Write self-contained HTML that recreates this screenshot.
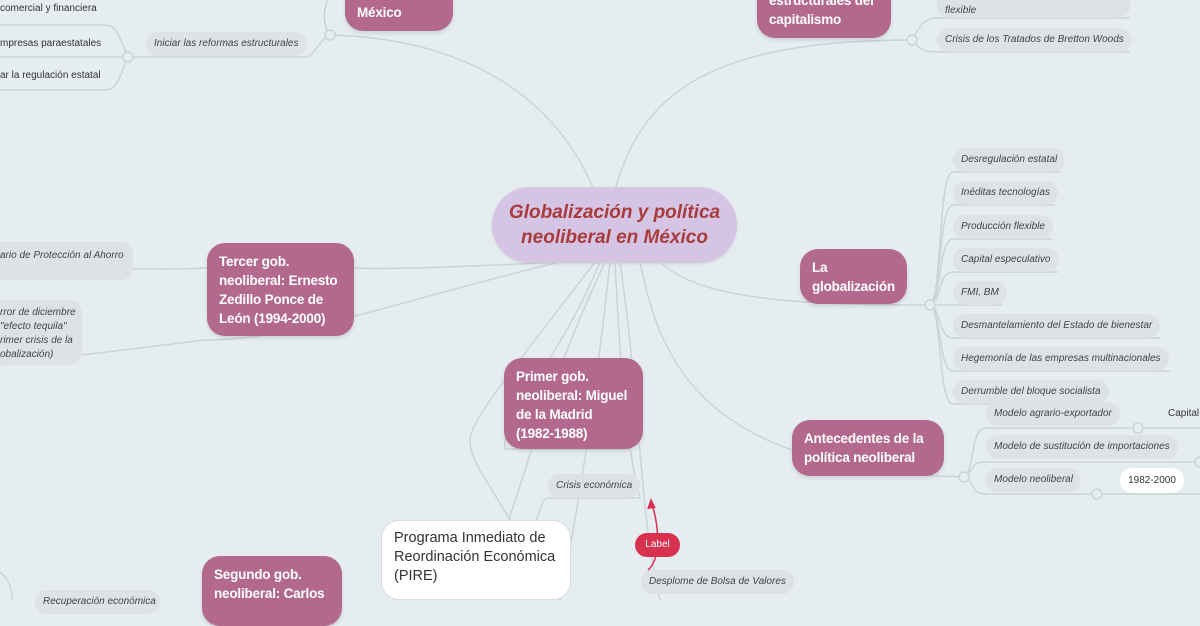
<!DOCTYPE html>
<html><head><meta charset="utf-8"><style>
body{margin:0;width:1200px;height:600px;overflow:hidden;background:#e5edf0;font-family:"Liberation Sans",sans-serif;position:relative}
.n{position:absolute;box-sizing:border-box}
.pk{background:#b3698d;color:#fff;font-weight:bold;font-size:13.5px;letter-spacing:-0.2px;line-height:19px;border-radius:18px;padding:9px 10px 9px 12px;box-shadow:0 2px 4px rgba(0,0,0,.12);white-space:nowrap}
.lf{background:#dde2e5;color:#444;font-style:italic;font-size:10px;border-radius:12px;padding:0 8px;height:24px;line-height:24px;white-space:nowrap}
.tx{color:#333;font-size:10px;white-space:nowrap}
svg{position:absolute;left:0;top:0}
</style></head><body>
<svg width="1200" height="600" fill="none" stroke="#ccd3d6" stroke-width="1.5">
<path d="M612 262 C600 150 520 40 330 35"/>
<path d="M330 35 C320 20 325 5 330 -5"/>
<path d="M330 35 C318 40 315 57 305 57 L146 57 C140 57 135 57 128 57"/>
<path d="M128 57 C120 40 118 25 105 25 L0 25"/>
<path d="M128 57 L0 57"/>
<path d="M128 57 C120 75 118 90 105 90 L0 90"/>
<path d="M615 190 C640 100 700 40 912 40"/>
<path d="M912 40 C920 25 925 18 937 18 L1130 18"/>
<path d="M912 40 C920 50 925 52 937 52 L1130 52"/>
<path d="M600 260 C500 265 400 270 354 268 L205 268 C180 270 150 268 0 270"/>
<path d="M560 262 C400 300 300 340 205 340 L0 365"/>
<path d="M660 262 C700 300 800 305 930 305"/>
<path d="M930 305 C942 300 938 172 953 172 L1060 172"/>
<path d="M930 305 C942 300 938 205 953 205 L1055 205"/>
<path d="M930 305 C942 300 938 239 953 239 L1052 239"/>
<path d="M930 305 C942 300 938 272 953 272 L1058 272"/>
<path d="M930 305 L1002 305"/>
<path d="M930 305 C942 310 938 338 953 338 L1160 338"/>
<path d="M930 305 C942 310 938 371 953 371 L1170 371"/>
<path d="M930 305 C942 310 938 404 953 404 L1108 404"/>
<path d="M640 262 C660 360 700 470 964 477"/>
<path d="M964 477 C975 470 970 430 985 428 L1200 428"/>
<path d="M964 477 C975 470 970 462 985 462 L1200 462"/>
<path d="M964 477 C975 480 970 494 985 494 L1200 494"/>
<path d="M600 262 C560 360 500 420 505 449 L630 449"/>
<path d="M605 262 C540 400 520 500 480 600"/>
<path d="M610 262 C595 400 580 500 560 600"/>
<path d="M615 262 C620 360 625 440 640 498 L548 498 C540 498 540 520 530 530"/>
<path d="M620 262 C640 400 640 520 660 600"/>
<path d="M595 262 C520 360 470 420 470 440 C470 460 480 470 560 600"/>
<path d="M0 572 C10 580 12 590 12 600"/>
</svg>
<svg width="1200" height="600" fill="#e5edf0" stroke="#ccd3d6" stroke-width="1.5">
<circle cx="330" cy="35" r="5"/><circle cx="128" cy="57" r="5"/><circle cx="912" cy="40" r="5"/>
<circle cx="930" cy="305" r="5"/><circle cx="964" cy="477" r="5"/><circle cx="1138" cy="428" r="5"/>
<circle cx="1200" cy="462" r="5"/><circle cx="1097" cy="494" r="5"/>
</svg>
<svg width="1200" height="600" fill="none" stroke="#d8304f" stroke-width="1.5"><path d="M648 570 C660 560 660 530 652 504"/><path d="M648 509 L651 500 L655 508" fill="#d8304f"/></svg>
<div class="n pk" style="left:345px;top:-30px;width:108px;height:61px;padding-top:33px">México</div>
<div class="n pk" style="left:757px;top:-20px;width:134px;height:58px;padding-top:11px">estructurales del<br>capitalismo</div>
<div class="n" style="left:492px;top:187px;width:245px;height:76px;border-radius:38px;background:#d6c4e5;color:#a83c3c;font-weight:bold;font-style:italic;font-size:19px;line-height:25px;text-align:center;padding-top:13px;box-shadow:0 1px 3px rgba(0,0,0,.1);white-space:nowrap">Globalización y política<br>neoliberal en México</div>
<div class="n pk" style="left:207px;top:243px;width:147px;height:93px">Tercer gob.<br>neoliberal: Ernesto<br>Zedillo Ponce de<br>León (1994-2000)</div>
<div class="n pk" style="left:800px;top:249px;width:107px;height:55px">La<br>globalización</div>
<div class="n pk" style="left:504px;top:358px;width:139px;height:91px">Primer gob.<br>neoliberal: Miguel<br>de la Madrid<br>(1982-1988)</div>
<div class="n pk" style="left:792px;top:420px;width:152px;height:56px">Antecedentes de la<br>política neoliberal</div>
<div class="n pk" style="left:202px;top:556px;width:140px;height:70px">Segundo gob.<br>neoliberal: Carlos</div>
<div class="n" style="left:381px;top:520px;width:190px;height:80px;background:#fff;border-radius:18px;color:#333;font-size:14.5px;line-height:19px;padding:8px 10px 8px 12px;border:1px solid #d8dde0;white-space:nowrap">Programa Inmediato de<br>Reordinación Económica<br>(PIRE)</div>
<div class="n lf" style="left:548px;top:474px;width:92px">Crisis económica</div>
<div class="n" style="left:635px;top:533px;width:45px;height:24px;background:#d8304f;color:#fff;font-size:10px;line-height:24px;text-align:center;border-radius:12px">Label</div>
<div class="n lf" style="left:641px;top:570px">Desplome de Bolsa de Valores</div>
<div class="n lf" style="left:146px;top:32px">Iniciar las reformas estructurales</div>
<div class="n tx" style="left:0;top:3px">comercial y financiera</div>
<div class="n tx" style="left:0;top:38px">mpresas paraestatales</div>
<div class="n tx" style="left:0;top:70px">ar la regulación estatal</div>
<div class="n lf" style="left:-10px;top:242px;width:143px;height:38px;line-height:28px;padding-left:10px">ario de Protección al Ahorro</div>
<div class="n lf" style="left:-30px;top:300px;width:112px;height:65px;line-height:14px;padding:6px 0 0 30px;white-space:normal">rror de diciembre<br>"efecto tequila"<br>rimer crisis de la<br>obalización)</div>
<div class="n lf" style="left:937px;top:-12px;width:193px;height:30px;line-height:14px;padding-top:2px">&nbsp;<br>flexible</div>
<div class="n lf" style="left:937px;top:28px">Crisis de los Tratados de Bretton Woods</div>
<div class="n lf" style="left:953px;top:148px">Desregulación estatal</div>
<div class="n lf" style="left:953px;top:181px">Inéditas tecnologías</div>
<div class="n lf" style="left:953px;top:215px">Producción flexible</div>
<div class="n lf" style="left:953px;top:248px">Capital especulativo</div>
<div class="n lf" style="left:953px;top:281px">FMI, BM</div>
<div class="n lf" style="left:953px;top:314px">Desmantelamiento del Estado de bienestar</div>
<div class="n lf" style="left:953px;top:347px">Hegemonía de las empresas multinacionales</div>
<div class="n lf" style="left:953px;top:380px">Derrumble del bloque socialista</div>
<div class="n lf" style="left:986px;top:402px">Modelo agrario-exportador</div>
<div class="n lf" style="left:986px;top:435px">Modelo de sustitución de importaciones</div>
<div class="n lf" style="left:986px;top:468px">Modelo neoliberal</div>
<div class="n" style="left:1120px;top:468px;width:64px;height:25px;background:#fff;border-radius:12px;font-size:10px;line-height:25px;text-align:center;color:#333">1982-2000</div>
<div class="n tx" style="left:1168px;top:408px">Capital</div>
<div class="n lf" style="left:35px;top:590px;width:125px">Recuperación económica</div>
</body></html>
